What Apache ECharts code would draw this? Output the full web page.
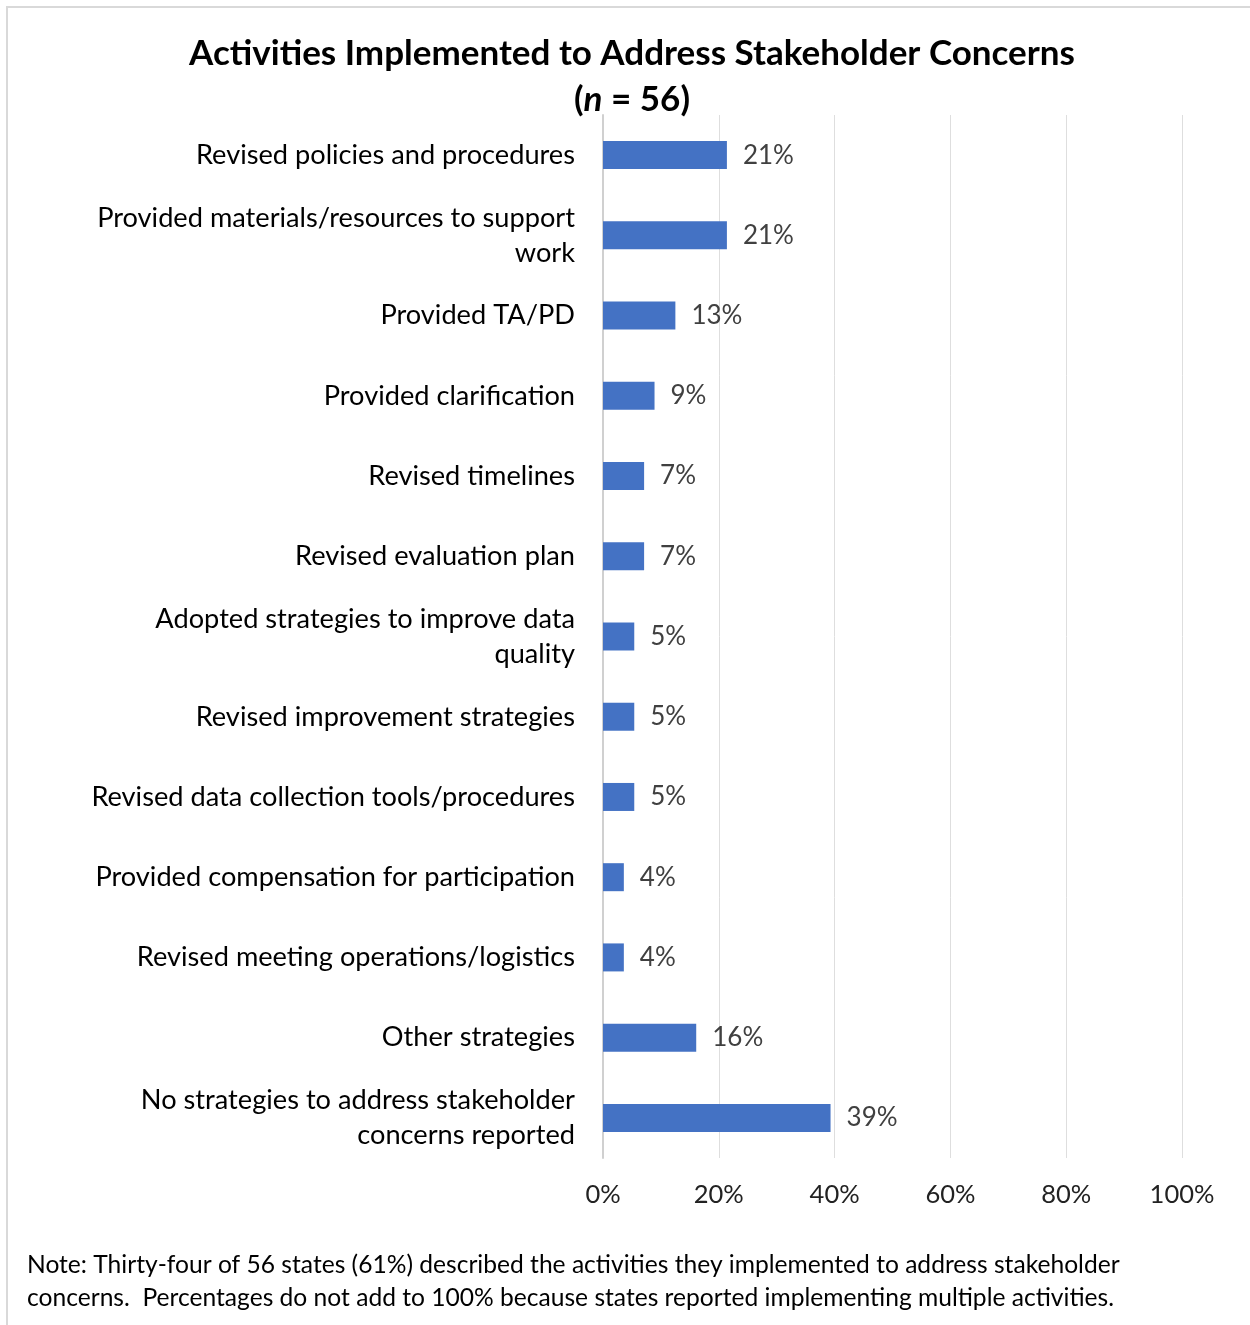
<!DOCTYPE html>
<html>
<head>
<meta charset="utf-8">
<script src="https://cdn.jsdelivr.net/npm/echarts@6/dist/echarts.min.js"></script>
<style>
html,body{margin:0;padding:0;background:#fff;}
#chart{width:1250px;height:1325px;}
</style>
</head>
<body>
<div id="chart"></div>
<script>
const categories = [
  "Revised policies and procedures",
  "Provided materials/resources to support\nwork",
  "Provided TA/PD",
  "Provided clarification",
  "Revised timelines",
  "Revised evaluation plan",
  "Adopted strategies to improve data\nquality",
  "Revised improvement strategies",
  "Revised data collection tools/procedures",
  "Provided compensation for participation",
  "Revised meeting operations/logistics",
  "Other strategies",
  "No strategies to address stakeholder\nconcerns reported"
];
const values = [21.4, 21.4, 12.5, 8.9, 7.1, 7.1, 5.4, 5.4, 5.4, 3.6, 3.6, 16.1, 39.3];
const valueLabels = ["21%", "21%", "13%", "9%", "7%", "7%", "5%", "5%", "5%", "4%", "4%", "16%", "39%"];
const xTicks = [0, 20, 40, 60, 80, 100];
const noteLines = [
  "Note: Thirty-four of 56 states (61%) described the activities they implemented to address stakeholder",
  "concerns.  Percentages do not add to 100% because states reported implementing multiple activities."
];

const FONT = "Lato, 'Open Sans', sans-serif";
const chart = echarts.init(document.getElementById('chart'));
chart.setOption({
  backgroundColor: '#fff',
  animation: false,
  textStyle: { fontFamily: FONT },
  title: {
    text: 'Activities Implemented to Address Stakeholder Concerns\n({i|n} = 56)',
    left: 627,
    textAlign: 'center',
    top: 26,
    textStyle: {
      fontFamily: FONT, fontSize: 35, fontWeight: 'bold', color: '#000', lineHeight: 46,
      rich: { i: { fontFamily: FONT, fontSize: 35, fontWeight: 'bold', fontStyle: 'italic', color: '#000' } }
    }
  },
  grid: { left: 603, right: 68, top: 115, bottom: 167, containLabel: false },
  xAxis: {
    type: 'value', min: xTicks[0], max: xTicks[xTicks.length - 1], interval: 20,
    axisLine: { show: false }, axisTick: { show: false },
    splitLine: { show: true, lineStyle: { color: '#dedede', width: 1 } },
    axisLabel: { formatter: '{value}%', fontFamily: FONT, fontSize: 25.5, color: '#222', margin: 24 }
  },
  yAxis: {
    type: 'category', data: categories, inverse: true,
    axisLine: { show: true, lineStyle: { color: '#d0d0d0', width: 2 } },
    axisTick: { show: false },
    axisLabel: { fontFamily: FONT, fontSize: 27.2, color: '#000', margin: 28, lineHeight: 35, align: 'right' }
  },
  series: [{
    type: 'bar', data: values, barWidth: 28,
    itemStyle: { color: '#4472C4' },
    label: {
      show: true, position: 'right', distance: 16,
      formatter: p => valueLabels[p.dataIndex],
      fontFamily: FONT, fontSize: 26, color: '#404040'
    }
  }],
  graphic: [
    { type: 'rect', shape: { x: 7, y: 7, width: 1300, height: 1400 }, style: { fill: 'none', stroke: '#d9d9d9', lineWidth: 2 }, silent: true },
    { type: 'text', left: 27, top: 1249, style: { text: noteLines.join('\n'), fontFamily: FONT, fontSize: 24.6, lineHeight: 33, fill: '#000' } }
  ]
});
</script>
</body>
</html>
